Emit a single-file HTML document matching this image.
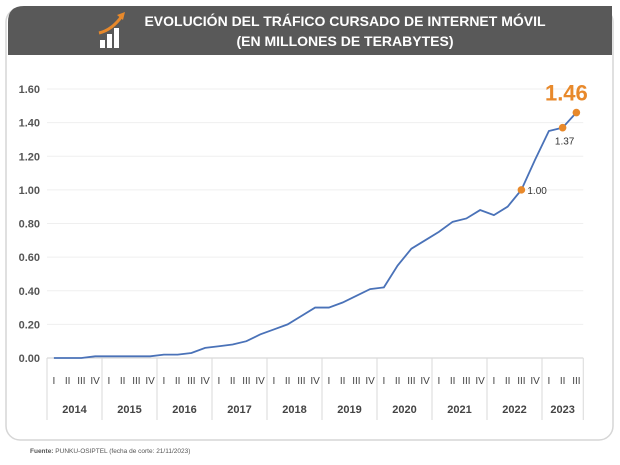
<!DOCTYPE html>
<html><head><meta charset="utf-8"><style>
body{margin:0;background:#fff;font-family:"Liberation Sans",sans-serif}
svg{display:block}
</style></head><body>
<svg width="620" height="465" viewBox="0 0 620 465">
<rect x="6" y="8" width="607" height="432" rx="14" fill="#fff" stroke="#d6d6d6" stroke-width="1.5"/>
<path d="M8 55 V22 Q8 6 24 6 H612 V55 Z" fill="#595959"/>
<g>
<rect x="100" y="40" width="5" height="8" fill="#fff"/><rect x="107" y="34" width="5" height="14" fill="#fff"/><rect x="114" y="28" width="5" height="20" fill="#fff"/>
<path d="M99 33 Q112 30 122 16" stroke="#e8892b" stroke-width="3" fill="none"/><path d="M117 15 L125 12 L123 20 Z" fill="#e8892b"/>
</g>
<text x="345" y="26" text-anchor="middle" fill="#fff" font-size="14" font-weight="bold">EVOLUCIÓN DEL TRÁFICO CURSADO DE INTERNET MÓVIL</text>
<text x="345" y="46" text-anchor="middle" fill="#fff" font-size="14" font-weight="bold">(EN MILLONES DE TERABYTES)</text>
<g id="grid"></g><g id="yaxis"></g><g id="xaxis"></g><g id="series"></g>
<text x="30" y="453" font-size="6.5" fill="#555"><tspan font-weight="bold">Fuente:</tspan> PUNKU-OSIPTEL (fecha de corte: 21/11/2023)</text>
</svg>
<script>
const years=['2014','2015','2016','2017','2018','2019','2020','2021','2022','2023'];
const quarters=['I','II','III','IV'];
const values=[0,0,0,0.01, 0.01,0.01,0.01,0.01, 0.02,0.02,0.03,0.06, 0.07,0.08,0.10,0.14, 0.17,0.20,0.25,0.30, 0.30,0.33,0.37,0.41, 0.42,0.55,0.65,0.70, 0.75,0.81,0.83,0.88, 0.85,0.90,1.00,1.18, 1.35,1.37,1.46];
const yTicks=[0,0.2,0.4,0.6,0.8,1.0,1.2,1.4,1.6];
const highlights=[34,37,38];
const NS='http://www.w3.org/2000/svg';
const X0=47,QW=13.75,Y0=358,YS=(358-89)/1.6;
const xs=i=>X0+(i+0.5)*QW, ys=v=>Y0-v*YS;
function mk(t,a,p){const e=document.createElementNS(NS,t);for(const k in a)e.setAttribute(k,a[k]);p.appendChild(e);return e;}
const grid=document.getElementById('grid'),ya=document.getElementById('yaxis'),xa=document.getElementById('xaxis'),se=document.getElementById('series');
const xEnd=X0+values.length*QW;
yTicks.forEach(t=>{
 const l=mk('line',{x1:X0,x2:xEnd,y1:ys(t),y2:ys(t),stroke:t===0?'#cfcfcf':'#efefef','stroke-width':1},grid);
 
 
 const tx=mk('text',{x:40,y:ys(t)+4,'text-anchor':'end','font-size':11,'font-weight':'bold',fill:'#555'},ya);
 tx.textContent=t.toFixed(2);
 
 
});
let idx=0;
years.forEach((y,yi)=>{
 const n=Math.min(4,values.length-idx);
 const xL=X0+idx*QW;
 const sep=mk('line',{x1:xL,x2:xL,y1:Y0,y2:420,stroke:'#d9d9d9'},xa);
 
 
 for(let q=0;q<n;q++){
  const t=mk('text',{x:xs(idx+q),y:384,'text-anchor':'middle','font-size':10,fill:'#444'},xa);
  t.textContent=quarters[q];
  
  
 }
 const yt=mk('text',{x:xL+n*QW/2,y:413,'text-anchor':'middle','font-size':11,'font-weight':'bold',fill:'#444'},xa);
 yt.textContent=y;
 
 
 idx+=n;
});
const se2=mk('line',{x1:xEnd,x2:xEnd,y1:Y0,y2:420,stroke:'#d9d9d9'},xa);


const pl=mk('polyline',{points:values.map((v,i)=>xs(i)+','+ys(v)).join(' '),fill:'none',stroke:'#4a72b8','stroke-width':1.8},se);


highlights.forEach((i,k)=>{
 const c=mk('circle',{cx:xs(i),cy:ys(values[i]),r:3.8,fill:'#e8892b'},se);
 
 
 let t;
 if(k===0){t=mk('text',{x:xs(i)+6,y:ys(values[i])+4,'font-size':10,fill:'#333'},se);}
 else if(k===1){t=mk('text',{x:xs(i)+2,y:ys(values[i])+17,'text-anchor':'middle','font-size':10,fill:'#333'},se);}
 else{t=mk('text',{x:xs(i)-10,y:ys(values[i])-12,'text-anchor':'middle','font-size':22,'font-weight':'bold',fill:'#e8892b'},se);}
 t.textContent=values[i].toFixed(2);
 
 
});
</script>
</body></html>
